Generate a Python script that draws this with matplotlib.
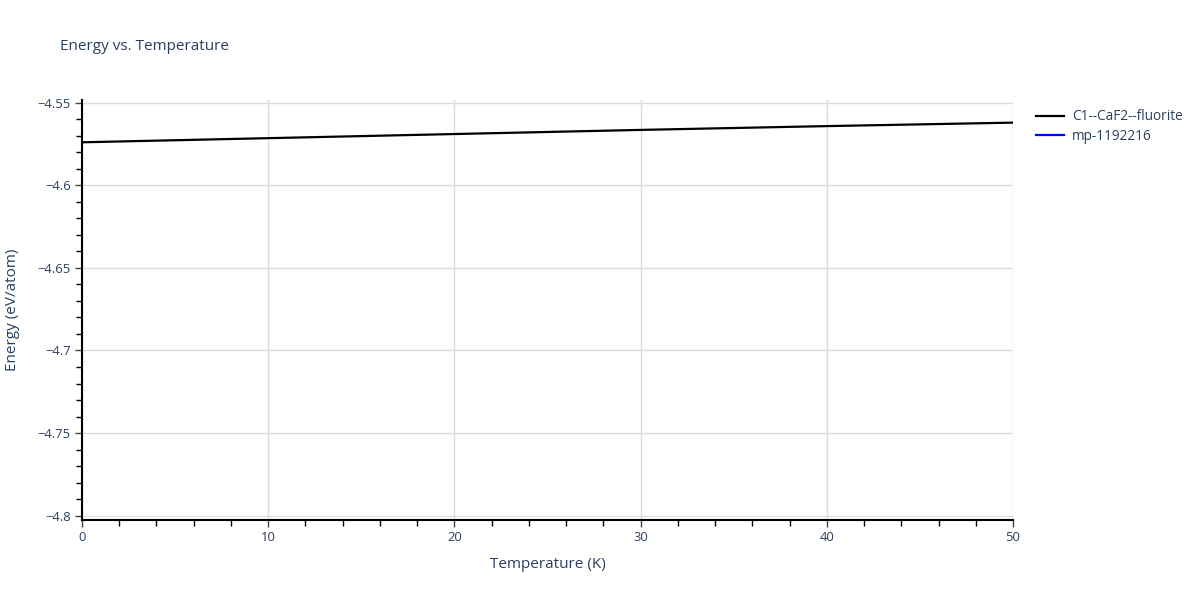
import numpy as np
import matplotlib.pyplot as plt
from matplotlib.ticker import MultipleLocator

temps = [0, 10, 20, 30, 40, 50]
energy_fluorite = [-4.5740, -4.5715, -4.5690, -4.5665, -4.5642, -4.5621]
temps_mp = []
energy_mp = []

plt.rcParams['font.family'] = ['Open Sans', 'DejaVu Sans']
txt = '#2a3f5f'

fig = plt.figure(figsize=(12, 6), dpi=100)
ax = fig.add_axes([82/1200, 1 - 520/600, (1013-82)/1200, 420/600])

ax.plot(temps, energy_fluorite, color='black', lw=1.6, label='C1--CaF2--fluorite')
ax.plot(temps_mp, energy_mp, color='blue', lw=1.6, label='mp-1192216')

ax.set_xlim(0, 50)
ax.set_ylim(-4.8026, -4.5484)
ax.xaxis.set_major_locator(MultipleLocator(10))
ax.xaxis.set_minor_locator(MultipleLocator(2))
ax.yaxis.set_major_locator(MultipleLocator(0.05))
ax.yaxis.set_minor_locator(MultipleLocator(0.01))
ax.yaxis.set_major_formatter(plt.FuncFormatter(lambda v, p: ('%g' % round(v, 2)).replace('-', '\u2212')))

ax.grid(True, which='major', color='#dcdcdc', lw=1)
ax.set_axisbelow(True)
for s in ['top', 'right']:
    ax.spines[s].set_visible(False)
for s in ['left', 'bottom']:
    ax.spines[s].set_color('black')
    ax.spines[s].set_linewidth(1.5)

ax.tick_params(which='major', direction='out', length=5, width=1, color='#444444',
               labelsize=9.4, labelcolor=txt, pad=3)
ax.tick_params(which='minor', direction='out', length=4, width=1, color='black')

ax.set_xlabel('Temperature (K)', fontsize=11, color=txt, labelpad=9)
ax.set_ylabel('Energy (eV/atom)', fontsize=11, color=txt, labelpad=13)
fig.text(60/1200, 1 - 46/600, 'Energy vs. Temperature', fontsize=11, color=txt, va='center')

fig.legend(loc='upper left', bbox_to_anchor=(1031/1200, 1 - 104/600), frameon=False,
           fontsize=9.8, labelcolor=txt, handlelength=2.0, handletextpad=0.6,
           labelspacing=0.3, borderaxespad=0)

fig.savefig('out.png', dpi=100)
